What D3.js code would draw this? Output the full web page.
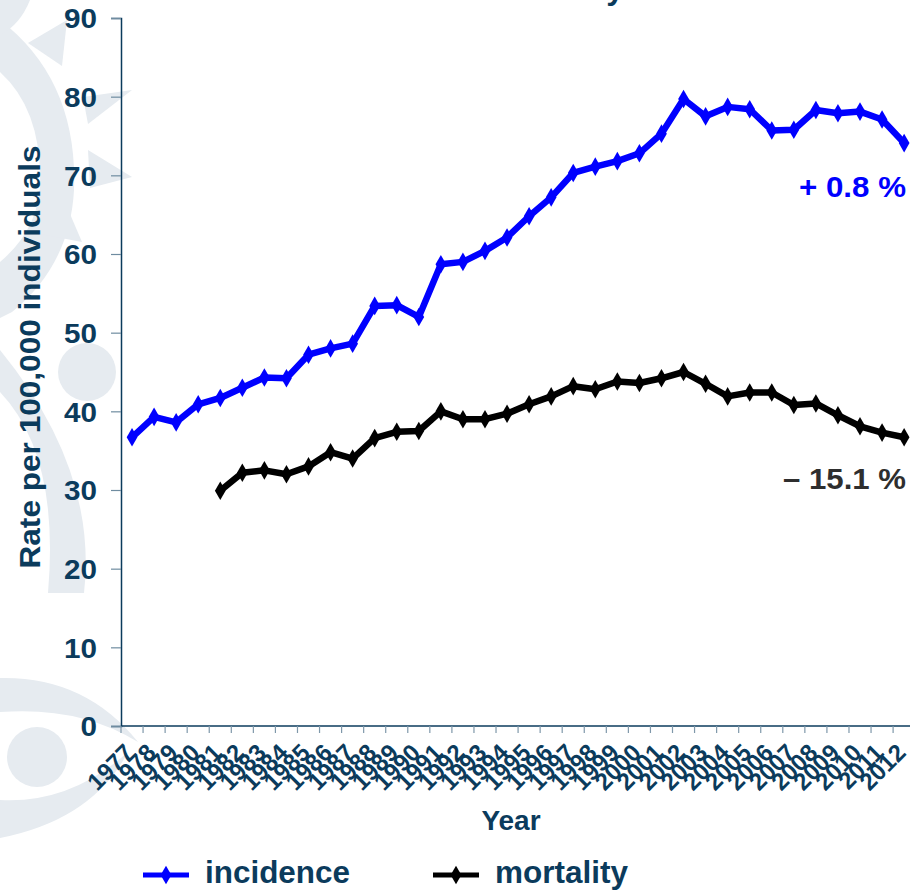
<!DOCTYPE html>
<html><head><meta charset="utf-8">
<script src="https://cdn.jsdelivr.net/npm/d3@7"></script>
<style>
html,body{margin:0;padding:0;background:#fff;}
svg{display:block;}
text{font-family:"Liberation Sans",Arial,sans-serif;font-weight:bold;}
</style></head>
<body>
<svg id="chart" width="910" height="890"></svg>
<script>
// ---- data ----
const years = ["1977","1978","1979","1980","1981","1982","1983","1984","1985","1986","1987","1988","1989","1990","1991","1992","1993","1994","1995","1996","1997","1998","1999","2000","2001","2002","2003","2004","2005","2006","2007","2008","2009","2010","2011","2012"];
const incidence = [36.7,39.3,38.6,40.9,41.7,43.0,44.3,44.2,47.2,48.0,48.6,53.4,53.5,52.0,58.7,59.0,60.4,62.1,64.8,67.2,70.3,71.1,71.8,72.8,75.3,79.7,77.5,78.7,78.4,75.7,75.8,78.3,77.9,78.1,77.1,74.1];
const mortality = [null,null,null,null,29.9,32.2,32.5,32.0,33.0,34.8,34.0,36.6,37.4,37.5,40.0,39.0,39.0,39.7,40.9,41.9,43.2,42.8,43.8,43.6,44.2,45.0,43.5,41.9,42.4,42.4,40.8,41.0,39.5,38.1,37.3,36.7];
const yTicks = [0,10,20,30,40,50,60,70,80,90];
const seriesNames = ["incidence","mortality"];
const seriesColors = ["#0000ff","#000000"];
const changeLabels = ["+ 0.8 %","\u2013 15.1 %"];
const titleText = "Incidence and mortality";
const xTitle = "Year";
const yTitle = "Rate per 100,000 individuals";

const navy = "#0b3b5c";
const svg = d3.select("#chart");

// ---- watermark (decorative logo) ----
const wm = svg.append("g").attr("fill","#e6ebf0");
[
 "M0,20 Q78,80 74,190 Q70,265 12,312 L0,318 L0,262 Q38,230 40,185 Q42,110 0,72 Z",
 "M28,43 L67,20 L62,66 Z",
 "M83,97 L132,90 L88,124 Z",
 "M88,150 L132,177 L90,188 Z",
 "M67,207 L82,242 L40,234 Z",
 "M0,0 L30,0 Q20,25 0,35 Z",
 "M0,392 Q60,455 48,593 L84,593 Q98,470 0,350 Z",
 "M0,678 Q85,676 138,742 Q80,706 0,712 Z",
 "M0,800 Q70,804 128,752 Q92,820 0,838 Z"
].forEach(d=>wm.append("path").attr("d",d));
wm.append("circle").attr("cx",87).attr("cy",372).attr("r",29);
wm.append("circle").attr("cx",37).attr("cy",757).attr("r",30);

// ---- scales ----
const x = d3.scaleBand().domain(years).range([121, 121 + 36*22.06]).padding(0);
const xc = d => x(d) + x.bandwidth()/2;
const y = d3.scaleLinear().domain([0,90]).range([726,18]);

// title (mostly cut off above the view, as in the reference)
svg.append("text").attr("x",624).attr("y",-1).attr("text-anchor","end")
  .attr("font-size",32).attr("fill",navy).text(titleText);

// ---- y axis ----
const ya = svg.append("g").attr("transform","translate(121,0)")
  .call(d3.axisLeft(y).tickValues(yTicks).tickSize(10).tickPadding(14));
ya.select(".domain").attr("stroke",navy).attr("stroke-width",1.5);
ya.selectAll(".tick line").attr("stroke","#6f8ca0").attr("stroke-width",1.2);
ya.selectAll(".tick text").attr("fill",navy).attr("font-size",27)
  .attr("font-family","Liberation Sans, Arial, sans-serif").attr("font-weight","bold")
  .attr("dy","0.36em")
  .each(function(){ const t=d3.select(this); const n=t.text().length; t.attr("textLength", n*16.5).attr("lengthAdjust","spacingAndGlyphs"); });

// ---- x axis ----
const xa = svg.append("g");
xa.append("line").attr("x1",121).attr("x2",915).attr("y1",726).attr("y2",726)
  .attr("stroke",navy).attr("stroke-width",1.5);
xa.selectAll("line.tk").data(years).join("line").attr("class","tk")
  .attr("x1",d=>x(d)).attr("x2",d=>x(d)).attr("y1",726).attr("y2",733)
  .attr("stroke","#7f98aa").attr("stroke-width",1.2);
xa.selectAll("text.lab").data(years).join("text").attr("class","lab")
  .attr("transform",d=>`translate(${xc(d)+3},754) rotate(-45)`)
  .attr("text-anchor","end").attr("font-size",24).attr("fill",navy).text(d=>d);

// axis titles
svg.append("text").attr("x",511).attr("y",830).attr("text-anchor","middle")
  .attr("font-size",28).attr("fill",navy).text(xTitle);
svg.append("text").attr("transform","translate(40,357) rotate(-90)")
  .attr("text-anchor","middle").attr("font-size",29).attr("fill",navy)
  .attr("textLength",423).attr("lengthAdjust","spacingAndGlyphs").text(yTitle);

// ---- series ----
const seriesData = [incidence, mortality];
const diamond = d3.symbol().type(d3.symbolDiamond).size(100);
seriesData.forEach((vals,i)=>{
  const pts = years.map((yr,j)=>({yr, v: vals[j]})).filter(p=>p.v!=null);
  svg.append("path").datum(pts)
    .attr("d", d3.line().x(p=>xc(p.yr)).y(p=>y(p.v)))
    .attr("fill","none").attr("stroke",seriesColors[i]).attr("stroke-width",6.5)
    .attr("stroke-linejoin","round");
  svg.append("g").selectAll("path").data(pts).join("path")
    .attr("d",diamond).attr("transform",p=>`translate(${xc(p.yr)},${y(p.v)})`)
    .attr("fill",seriesColors[i]);
});

// change annotations
svg.append("text").attr("x",906).attr("y",197).attr("text-anchor","end")
  .attr("font-size",29).attr("fill","#0000ff").attr("textLength",107).attr("lengthAdjust","spacingAndGlyphs").text(changeLabels[0]);
svg.append("text").attr("x",906).attr("y",489).attr("text-anchor","end")
  .attr("font-size",29).attr("fill","#2e2e2e").attr("textLength",123).attr("lengthAdjust","spacingAndGlyphs").text(changeLabels[1]);

// ---- legend ----
const legX = [143, 433];
seriesNames.forEach((n,i)=>{
  const g = svg.append("g").attr("transform",`translate(${legX[i]},875)`);
  g.append("line").attr("x1",0).attr("x2",46).attr("y1",0).attr("y2",0)
    .attr("stroke",seriesColors[i]).attr("stroke-width",5);
  g.append("path").attr("d",diamond).attr("transform","translate(23,0)").attr("fill",seriesColors[i]);
  g.append("text").attr("x",62).attr("y",8).attr("font-size",31).attr("fill",navy)
    .attr("textLength", i===0 ? 145 : 133).attr("lengthAdjust","spacingAndGlyphs").text(n);
});
</script>
</body></html>
